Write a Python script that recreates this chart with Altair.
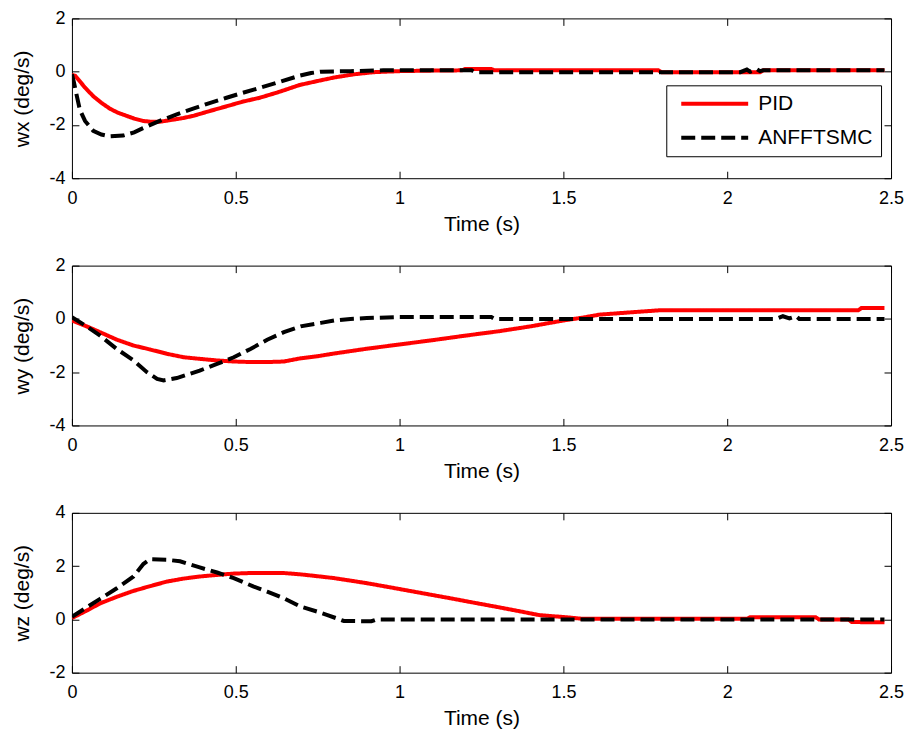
import altair as alt
import pandas as pd

SERIES = ["PID", "ANFFTSMC"]
COLORS = ["#ff0000", "#000000"]
DASHES = [[1, 0], [14, 6]]
X_TICKS = [0, 0.5, 1, 1.5, 2, 2.5]

# ---- wx panel ----
wx_pid_t = [0.0, 0.01, 0.04, 0.065, 0.09, 0.116, 0.14, 0.167, 0.19, 0.217, 0.24, 0.268, 0.3, 0.34, 0.37,
            0.42, 0.472, 0.52, 0.573, 0.63, 0.695, 0.75, 0.8, 0.86, 0.92, 1.0, 1.1, 1.19, 1.2, 1.28, 1.29,
            1.79, 1.8, 2.1, 2.11, 2.48]
wx_pid_v = [-0.12, -0.15, -0.6, -0.92, -1.17, -1.39, -1.54, -1.66, -1.76, -1.85, -1.88, -1.88, -1.82, -1.74,
            -1.66, -1.48, -1.3, -1.13, -0.98, -0.77, -0.5, -0.35, -0.22, -0.1, -0.02, 0.02, 0.04, 0.05, 0.1,
            0.1, 0.05, 0.05, -0.02, -0.02, 0.05, 0.05]
wx_anf_t = [0.0, 0.006, 0.013, 0.024, 0.04, 0.065, 0.09, 0.116, 0.156, 0.19, 0.217, 0.268, 0.32, 0.37, 0.42,
            0.472, 0.52, 0.573, 0.63, 0.695, 0.73, 0.76, 0.85, 0.95, 1.22, 1.23, 2.04, 2.06, 2.07, 2.09,
            2.1, 2.11, 2.48]
wx_anf_v = [-0.1, -0.4, -0.8, -1.42, -1.85, -2.22, -2.36, -2.43, -2.4, -2.28, -2.12, -1.85, -1.6, -1.39,
            -1.18, -0.98, -0.8, -0.61, -0.4, -0.15, -0.05, 0.0, 0.02, 0.05, 0.05, -0.02, -0.02, 0.08, 0.0,
            0.1, 0.02, 0.05, 0.05]

# ---- wy panel ----
wy_pid_t = [0.0, 0.045, 0.086, 0.137, 0.188, 0.239, 0.29, 0.341, 0.39, 0.443, 0.494, 0.545, 0.596, 0.647,
            0.698, 0.75, 0.8, 0.9, 1.0, 1.1, 1.2, 1.305, 1.4, 1.5, 1.56, 1.61, 1.71, 1.79, 2.4, 2.41, 2.48]
wy_pid_v = [-0.06, -0.28, -0.5, -0.78, -1.0, -1.15, -1.31, -1.44, -1.5, -1.56, -1.6, -1.62, -1.62, -1.6,
            -1.48, -1.4, -1.3, -1.12, -0.96, -0.8, -0.63, -0.46, -0.28, -0.06, 0.05, 0.16, 0.25, 0.32,
            0.32, 0.41, 0.41]
wy_anf_t = [0.0, 0.045, 0.086, 0.137, 0.188, 0.229, 0.26, 0.28, 0.32, 0.39, 0.443, 0.494, 0.545, 0.596,
            0.647, 0.698, 0.76, 0.8, 0.85, 0.9, 1.0, 1.28, 1.29, 2.15, 2.17, 2.19, 2.21, 2.22, 2.48]
wy_anf_v = [0.06, -0.28, -0.63, -1.13, -1.56, -2.0, -2.25, -2.31, -2.22, -1.94, -1.69, -1.44, -1.13, -0.78,
            -0.5, -0.28, -0.15, -0.06, 0.0, 0.03, 0.07, 0.07, 0.0, 0.0, 0.1, 0.02, 0.1, 0.0, 0.0]

# ---- wz panel ----
wz_pid_t = [0.0, 0.045, 0.086, 0.137, 0.188, 0.239, 0.29, 0.34, 0.39, 0.443, 0.494, 0.545, 0.647, 0.698,
            0.75, 0.8, 0.848, 0.9, 1.0, 1.08, 1.152, 1.23, 1.305, 1.36, 1.427, 1.509, 1.56, 2.06, 2.07,
            2.27, 2.28, 2.37, 2.38, 2.48]
wz_pid_v = [0.05, 0.33, 0.6, 0.85, 1.07, 1.25, 1.42, 1.53, 1.61, 1.67, 1.72, 1.74, 1.74, 1.69, 1.62, 1.55,
            1.46, 1.36, 1.14, 0.96, 0.8, 0.62, 0.45, 0.32, 0.16, 0.08, 0.02, 0.02, 0.08, 0.08, 0.0, 0.0,
            -0.1, -0.11]
wz_anf_t = [0.0, 0.086, 0.137, 0.188, 0.218, 0.239, 0.29, 0.33, 0.39, 0.443, 0.494, 0.555, 0.596, 0.647,
            0.698, 0.749, 0.78, 0.817, 0.83, 0.914, 0.93, 2.48]
wz_anf_v = [0.1, 0.77, 1.17, 1.61, 2.08, 2.26, 2.24, 2.18, 1.95, 1.76, 1.55, 1.23, 1.04, 0.79, 0.48, 0.29,
            0.16, 0.0, -0.06, -0.07, 0.0, 0.0]

FONT = "Liberation Sans"
TICK = 7


def panel(t_pid, v_pid, t_anf, v_anf, ytitle, ydom, yticks, show_legend):
    df = pd.DataFrame({
        "t": t_pid + t_anf,
        "v": v_pid + v_anf,
        "series": ["PID"] * len(t_pid) + ["ANFFTSMC"] * len(t_anf),
    })
    xs = alt.Scale(domain=[0, 2.5], nice=False, zero=False)
    ys = alt.Scale(domain=ydom, nice=False, zero=False)
    if show_legend:
        leg = alt.Legend(title=None, orient="none", legendX=595, legendY=67,
                         strokeColor="black", fillColor="white", padding=8,
                         symbolType="stroke", symbolSize=4489, symbolStrokeWidth=4,
                         symbolOffset=5, labelFontSize=21, labelFont=FONT, labelColor="black",
                         labelOffset=8, clipHeight=21, rowPadding=12)
    else:
        leg = None
    color = alt.Color("series:N", scale=alt.Scale(domain=SERIES, range=COLORS), legend=leg)
    dash = alt.StrokeDash("series:N", scale=alt.Scale(domain=SERIES, range=DASHES), legend=leg)
    base = alt.Chart(df).mark_line(strokeWidth=4, clip=True)

    first = base.transform_filter(alt.datum.series == "PID").encode(
        x=alt.X("t:Q", scale=xs, axis=alt.Axis(
            orient="bottom", values=X_TICKS, offset=-TICK, tickSize=TICK, labelPadding=11,
            labelFlush=False, domain=False, grid=False, title="Time (s)", titlePadding=6,
            labelExpr="'' + datum.value")),
        y=alt.Y("v:Q", scale=ys, axis=alt.Axis(
            orient="left", values=yticks, offset=-TICK, tickSize=TICK, labelPadding=7,
            labelFlush=False, domain=False, grid=False, title=ytitle, titlePadding=16,
            labelExpr="'' + datum.value")),
        color=color, strokeDash=dash,
    )
    second = base.transform_filter(alt.datum.series == "ANFFTSMC").encode(
        x=alt.X("t:Q", scale=xs, axis=alt.Axis(
            orient="top", values=X_TICKS, offset=-TICK, tickSize=TICK, labels=False,
            domain=False, grid=False, title=None)),
        y=alt.Y("v:Q", scale=ys, axis=alt.Axis(
            orient="right", values=yticks, offset=-TICK, tickSize=TICK, labels=False,
            domain=False, grid=False, title=None)),
        color=color, strokeDash=dash,
    )
    return alt.layer(first, second).resolve_axis(x="independent", y="independent").properties(
        width=820, height=160)


p1 = panel(wx_pid_t, wx_pid_v, wx_anf_t, wx_anf_v, "wx (deg/s)", [-4, 2], [-4, -2, 0, 2], True)
p2 = panel(wy_pid_t, wy_pid_v, wy_anf_t, wy_anf_v, "wy (deg/s)", [-4, 2], [-4, -2, 0, 2], False)
p3 = panel(wz_pid_t, wz_pid_v, wz_anf_t, wz_anf_v, "wz (deg/s)", [-2, 4], [-2, 0, 2, 4], False)

chart = alt.vconcat(p1, p2, p3, spacing=87.5, bounds="flush").resolve_scale(
    color="independent", strokeDash="independent"
).properties(
    padding={"left": 3, "top": 0, "right": 5, "bottom": 5}
).configure_axis(
    labelFont=FONT, titleFont=FONT, labelFontSize=18, titleFontSize=21,
    titleFontWeight="normal", labelColor="black", titleColor="black",
    tickColor="black", tickWidth=1
).configure_view(stroke="black", strokeWidth=1)

chart.save("out.html", embed_options={"renderer": "svg", "actions": False})
